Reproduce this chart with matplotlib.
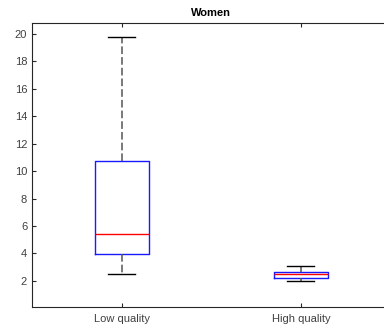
import matplotlib
matplotlib.use("Agg")
import matplotlib.pyplot as plt

# box statistics
groups = ["Low quality", "High quality"]
medians = [5.4, 2.5]
q1 = [3.95, 2.2]
q3 = [10.75, 2.62]
whis_lo = [2.5, 2.02]
whis_hi = [19.8, 3.08]

plt.rcParams['font.family'] = ['Liberation Sans', 'DejaVu Sans']

fig = plt.figure(figsize=(3.84, 3.29), dpi=100)
ax = fig.add_axes([32 / 384, 1 - 307 / 329, 358.5 / 384, 284 / 329])

stats = []
for i in range(len(groups)):
    stats.append(dict(med=medians[i], q1=q1[i], q3=q3[i],
                      whislo=whis_lo[i], whishi=whis_hi[i],
                      fliers=[], label=groups[i]))

ax.bxp(stats, positions=[1, 2], widths=0.3, showfliers=False,
       boxprops=dict(color='#1a1aff', linewidth=1),
       medianprops=dict(color='red', linewidth=1),
       whiskerprops=dict(color='#555555', linestyle=(0, (5, 2)), linewidth=1.1),
       capprops=dict(color='black', linewidth=1),
       capwidths=0.15)

ax.set_xlim(0.5, 2.5)
ax.set_ylim(0.1, 20.8)
ax.set_yticks(range(2, 21, 2))
ax.set_title("Women", fontsize=8, fontweight='bold', pad=5)
ax.tick_params(direction='in', labelsize=8, colors='#262626', length=3,
               top=True, right=True, labelcolor='#404040')
ax.tick_params(axis='x', pad=5)
for s in ax.spines.values():
    s.set_color('#262626')
    s.set_linewidth(0.8)

fig.savefig("out.png", dpi=100)
